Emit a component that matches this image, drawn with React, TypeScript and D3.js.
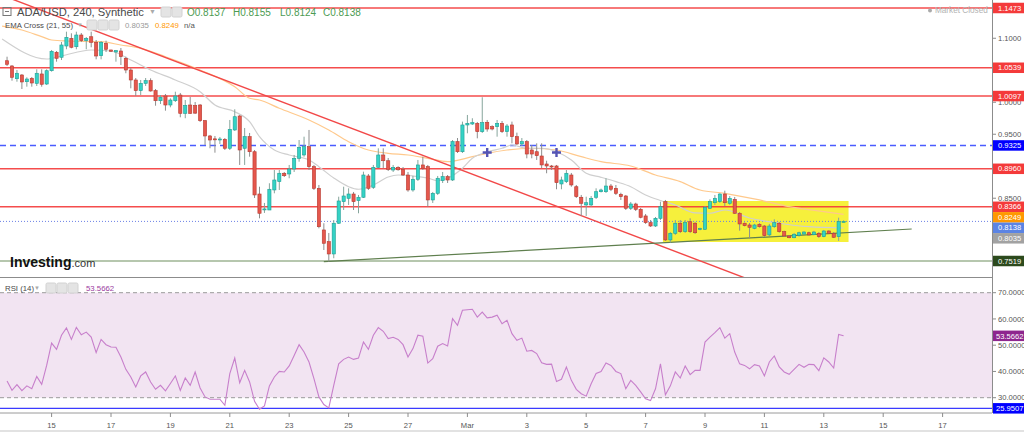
import React, { useEffect, useRef } from 'react';
import * as d3 from 'd3';

const width = 1024;
const height = 432;
const axisX = 992;
const paneBottom = 277.5;
const bottomAxisY = 413;

const upColor = '#34d2c5';
const upEdge = '#1f9f94';
const downColor = '#e5574d';
const downEdge = '#b63a30';
const levelRed = '#f43a3a';
const font = '"Liberation Sans", Arial, sans-serif';

// 4h bars, the first one opens 13 Feb 2019 12:00 UTC
const firstBar = Date.UTC(2019, 1, 13, 12);
const barMs = 4 * 3600 * 1000;

// [open, high, low, close]
const ohlc = [
  [1.0649, 1.0712, 1.0567, 1.0593], [1.0567, 1.058, 1.0337, 1.039], [1.0368, 1.0504, 1.0321, 1.0453],
  [1.0426, 1.044, 1.0207, 1.0317], [1.0321, 1.039, 1.0243, 1.0363], [1.0374, 1.0395, 1.0243, 1.0301],
  [1.0296, 1.0515, 1.0254, 1.0453], [1.0442, 1.0515, 1.0243, 1.0281], [1.0285, 1.0515, 1.027, 1.0493],
  [1.0493, 1.0817, 1.0478, 1.0796], [1.0781, 1.0801, 1.0634, 1.0687], [1.0703, 1.0942, 1.066, 1.0895],
  [1.0879, 1.1103, 1.0828, 1.1015], [1.0999, 1.1077, 1.0843, 1.0859], [1.0868, 1.1103, 1.0828, 1.1051],
  [1.1051, 1.1082, 1.0941, 1.0962], [1.0962, 1.102, 1.0828, 1.0999], [1.1024, 1.1103, 1.0859, 1.0937],
  [1.0937, 1.0973, 1.0671, 1.0723], [1.0728, 1.0957, 1.0671, 1.0937], [1.0921, 1.0962, 1.0785, 1.0828],
  [1.0817, 1.082, 1.079, 1.0796], [1.0785, 1.0817, 1.0634, 1.0806], [1.0801, 1.0848, 1.0582, 1.0712],
  [1.0687, 1.0712, 1.0453, 1.0504], [1.0504, 1.0535, 1.0218, 1.0348], [1.0348, 1.0379, 1.0098, 1.0181],
  [1.0181, 1.0348, 1.0113, 1.0296], [1.0296, 1.0379, 1.0254, 1.0337], [1.0337, 1.0374, 1.0166, 1.0176],
  [1.0181, 1.0207, 0.9946, 1.0024], [1.0024, 1.0113, 0.9973, 1.0078], [1.0098, 1.0129, 0.9868, 0.9957],
  [0.9957, 1.0062, 0.9921, 1.0035], [1.0024, 1.0165, 1.0004, 1.0098], [1.0113, 1.0145, 0.9765, 0.9827],
  [0.9827, 1.0035, 0.975, 0.995], [0.9957, 1.0082, 0.9817, 0.9827], [0.995, 1.0004, 0.9817, 0.983],
  [0.9957, 0.9973, 0.9692, 0.9712], [0.9712, 0.9723, 0.9332, 0.9473], [0.9473, 0.9489, 0.9281, 0.941],
  [0.9428, 0.9473, 0.9212, 0.9415], [0.9415, 0.9457, 0.9348, 0.9426], [0.9421, 0.9441, 0.9254, 0.9281],
  [0.9281, 0.9723, 0.9254, 0.9577], [0.9567, 0.989, 0.9551, 0.9774], [0.9785, 0.9801, 0.902, 0.9254],
  [0.9281, 0.9598, 0.902, 0.9462], [0.9462, 0.952, 0.9149, 0.9227], [0.9227, 0.9254, 0.8504, 0.8551],
  [0.8566, 0.868, 0.8186, 0.8265], [0.832, 0.8426, 0.827, 0.8333], [0.8316, 0.8734, 0.8316, 0.864],
  [0.8629, 0.8941, 0.8577, 0.8785], [0.8759, 0.8941, 0.8629, 0.889], [0.889, 0.891, 0.8832, 0.8852],
  [0.8879, 0.902, 0.8812, 0.8957], [0.8957, 0.9176, 0.891, 0.9124], [0.9124, 0.941, 0.9071, 0.9296],
  [0.9176, 0.9462, 0.9149, 0.9306], [0.9306, 0.9567, 0.8941, 0.8993], [0.8993, 0.902, 0.8629, 0.8655],
  [0.8655, 0.8707, 0.803, 0.8055], [0.8004, 0.8109, 0.7691, 0.7796], [0.7821, 0.7957, 0.7508, 0.7629],
  [0.7629, 0.816, 0.7562, 0.8109], [0.8109, 0.8524, 0.8098, 0.8457], [0.8446, 0.868, 0.8316, 0.8535],
  [0.8499, 0.8655, 0.8395, 0.8566], [0.8566, 0.8598, 0.8316, 0.8446], [0.8462, 0.8551, 0.8265, 0.8515],
  [0.8515, 0.8915, 0.8504, 0.8863], [0.8848, 0.8879, 0.8629, 0.8655], [0.8671, 0.902, 0.8645, 0.8983],
  [0.8983, 0.928, 0.8973, 0.9176], [0.9176, 0.928, 0.8968, 0.9086], [0.9086, 0.9129, 0.8926, 0.8952],
  [0.8941, 0.902, 0.891, 0.8983], [0.8983, 0.9, 0.893, 0.8945], [0.8952, 0.8988, 0.8848, 0.8863],
  [0.8863, 0.891, 0.8602, 0.8629], [0.8629, 0.8848, 0.8602, 0.8796], [0.8796, 0.9098, 0.877, 0.902],
  [0.902, 0.9149, 0.8941, 0.8968], [0.8993, 0.902, 0.8368, 0.8473], [0.8473, 0.8598, 0.8426, 0.8577],
  [0.8577, 0.8848, 0.8551, 0.8812], [0.8774, 0.891, 0.8738, 0.8837], [0.8837, 0.8863, 0.8738, 0.8785],
  [0.8785, 0.941, 0.877, 0.9384], [0.9384, 0.9441, 0.9207, 0.9227], [0.9227, 0.9697, 0.9207, 0.9645],
  [0.9645, 0.9801, 0.9515, 0.9671], [0.966, 0.975, 0.9645, 0.9681], [0.9671, 0.9692, 0.9436, 0.954],
  [0.954, 1.0078, 0.952, 0.9681], [0.9687, 0.9723, 0.954, 0.9582], [0.9618, 0.964, 0.956, 0.9582],
  [0.9618, 0.9723, 0.9462, 0.9671], [0.9671, 0.9707, 0.952, 0.954], [0.954, 0.966, 0.9462, 0.9629],
  [0.9645, 0.9697, 0.9358, 0.9462], [0.9462, 0.9525, 0.9332, 0.9348], [0.9348, 0.9441, 0.9317, 0.9384],
  [0.9384, 0.941, 0.9124, 0.9191], [0.9254, 0.9332, 0.9124, 0.9191], [0.9227, 0.9358, 0.9098, 0.9165],
  [0.916, 0.9358, 0.8968, 0.902], [0.9035, 0.9086, 0.889, 0.9004], [0.9004, 0.902, 0.8941, 0.8988],
  [0.9004, 0.902, 0.864, 0.8743], [0.8723, 0.8837, 0.864, 0.8785], [0.8759, 0.8941, 0.8738, 0.889],
  [0.8863, 0.8895, 0.868, 0.8707], [0.868, 0.8707, 0.8504, 0.8524], [0.8515, 0.8551, 0.8223, 0.8421],
  [0.8395, 0.8524, 0.8223, 0.843], [0.8395, 0.8535, 0.8368, 0.8499], [0.8515, 0.8655, 0.8488, 0.8602],
  [0.8602, 0.865, 0.859, 0.8629], [0.8602, 0.8812, 0.8582, 0.8691], [0.8691, 0.8723, 0.8612, 0.864],
  [0.8655, 0.8707, 0.8551, 0.8577], [0.8561, 0.8586, 0.8473, 0.8524], [0.8535, 0.8551, 0.8316, 0.8343],
  [0.8343, 0.8442, 0.8316, 0.841], [0.841, 0.843, 0.83, 0.8327], [0.8327, 0.8348, 0.8186, 0.8202],
  [0.8223, 0.8254, 0.8098, 0.8118], [0.8118, 0.816, 0.8051, 0.8066], [0.8066, 0.8207, 0.8051, 0.8186],
  [0.8186, 0.8446, 0.816, 0.8368], [0.8446, 0.8473, 0.7832, 0.7848], [0.7848, 0.7973, 0.7806, 0.7952],
  [0.7952, 0.816, 0.7926, 0.8109], [0.8109, 0.816, 0.7957, 0.7977], [0.7977, 0.816, 0.7957, 0.8118],
  [0.8133, 0.8186, 0.7957, 0.7977], [0.8109, 0.8129, 0.7941, 0.7961], [0.8015, 0.804, 0.8, 0.8025],
  [0.8015, 0.8379, 0.8004, 0.8359], [0.8343, 0.8483, 0.8332, 0.8446], [0.843, 0.8551, 0.8395, 0.8499],
  [0.8446, 0.8577, 0.8426, 0.8566], [0.8566, 0.8618, 0.8379, 0.843], [0.8421, 0.8535, 0.8395, 0.8499],
  [0.8483, 0.852, 0.8254, 0.8265], [0.8265, 0.8285, 0.7993, 0.8098], [0.8109, 0.812, 0.806, 0.8071],
  [0.8082, 0.8113, 0.7874, 0.8046], [0.803, 0.81, 0.8015, 0.8082], [0.8093, 0.811, 0.804, 0.8055],
  [0.8066, 0.8082, 0.7895, 0.7915], [0.7926, 0.8098, 0.791, 0.8066], [0.8055, 0.8171, 0.8035, 0.8118],
  [0.8109, 0.8129, 0.7961, 0.7977], [0.7977, 0.7993, 0.7895, 0.791], [0.791, 0.7926, 0.7874, 0.7883],
  [0.7883, 0.7957, 0.7874, 0.7937], [0.7921, 0.7977, 0.7899, 0.7961], [0.794, 0.7985, 0.7926, 0.7972],
  [0.7961, 0.7977, 0.7915, 0.7926], [0.793, 0.799, 0.792, 0.7972], [0.7952, 0.7972, 0.788, 0.7899],
  [0.7899, 0.8004, 0.789, 0.7988], [0.7988, 0.7998, 0.794, 0.7952], [0.7952, 0.7972, 0.788, 0.789],
  [0.7899, 0.8196, 0.7832, 0.8137], [0.8137, 0.8155, 0.8124, 0.8138],
];

// RSI(14), one value per bar
const rsi = [
  36.4, 32.8, 35.0, 32.7, 34.5, 33.4, 38.1, 35.1, 42.3, 50.8,
  48.4, 53.8, 56.6, 52.2, 56.8, 54.0, 55.0, 53.1, 47.2, 52.2,
  50.2, 49.3, 49.2, 45.5, 40.8, 37.9, 34.1, 38.3, 39.8, 36.0,
  33.2, 34.7, 32.6, 35.4, 38.3, 32.8, 37.5, 34.7, 39.8, 33.7,
  30.3, 29.4, 29.4, 29.4, 27.1, 39.2, 45.1, 35.7, 40.4, 36.0,
  28.6, 25.6, 26.9, 34.5, 37.9, 40.0, 39.8, 42.1, 46.1, 50.2,
  47.4, 43.6, 37.3, 30.3, 27.4, 26.1, 34.7, 42.9, 44.6, 45.5,
  44.6, 45.1, 51.2, 48.4, 53.8, 56.7, 55.3, 52.5, 53.0, 52.2,
  50.2, 45.5, 48.7, 53.8, 53.4, 43.2, 44.9, 49.6, 50.6, 49.7,
  60.1, 57.6, 63.3, 63.5, 63.7, 60.7, 62.6, 60.4, 60.7, 61.4,
  58.2, 59.5, 54.4, 51.9, 52.7, 47.7, 48.0, 46.8, 43.3, 42.7,
  42.8, 36.2, 37.0, 41.7, 36.6, 33.2, 31.5, 30.6, 35.3, 39.2,
  40.0, 43.2, 42.3, 40.0, 39.2, 33.4, 36.6, 34.7, 32.2, 29.6,
  28.9, 33.4, 42.9, 31.1, 34.5, 39.8, 37.5, 42.1, 38.8, 40.4,
  40.4, 51.2, 53.1, 54.8, 56.7, 52.7, 54.4, 47.4, 42.9, 42.3,
  41.0, 42.6, 42.1, 38.3, 43.6, 45.9, 41.7, 39.8, 38.9, 40.8,
  42.7, 41.6, 42.7, 42.6, 40.3, 45.2, 43.6, 41.3, 54.1, 53.5662,
];

// EMA readings: [bar index, price]
const emaFast = [
  [-1, 1.099], [8, 1.0676], [11, 1.0723], [17, 1.0817], [21, 1.0801], [25, 1.066], [29, 1.0504],
  [34, 1.0348], [39, 1.0165], [42, 0.9957], [46, 0.9853], [49, 0.9696], [51, 0.9462], [54, 0.9254],
  [57, 0.9176], [61, 0.9098], [63, 0.8993], [66, 0.8816], [69, 0.868], [71, 0.864], [74, 0.8707],
  [77, 0.8832], [79, 0.8863], [82, 0.8848], [85, 0.8816], [87, 0.8774], [89, 0.8812], [92, 0.8968],
  [94, 0.9124], [97, 0.9223], [100, 0.9281], [102, 0.9332], [105, 0.9281], [108, 0.9281],
  [111, 0.9227], [114, 0.9098], [117, 0.889], [120, 0.8827], [123, 0.8759], [126, 0.868],
  [129, 0.8551], [132, 0.8465], [135, 0.8395], [139, 0.827], [142, 0.8265], [145, 0.8316],
  [150, 0.8191], [156, 0.8109], [162, 0.8055], [169, 0.8035],
];
const emaSlow = [
  [-1, 1.119], [3, 1.1129], [7, 1.1025], [9, 1.0973], [12, 1.0957], [19, 1.0946], [23, 1.0895],
  [27, 1.0843], [32, 1.0712], [39, 1.0504], [46, 1.0243], [49, 1.0062], [51, 1.0035], [55, 0.9906],
  [61, 0.9723], [65, 0.9567], [69, 0.9384], [73, 0.9254], [77, 0.9202], [81, 0.9176], [85, 0.9124],
  [89, 0.9071], [94, 0.9149], [97, 0.9202], [101, 0.9254], [106, 0.9281], [111, 0.9254],
  [116, 0.9149], [120, 0.9071], [126, 0.9004], [131, 0.8863], [136, 0.8759], [140, 0.8629],
  [145, 0.8577], [152, 0.8473], [158, 0.8368], [165, 0.829], [169, 0.8249],
];
const crossBars = [97, 111];
const crossPrice = 0.9215;

const resistanceLevels = [1.1473, 1.0539, 1.0097, 0.896, 0.8366];
const pivotLevel = 0.9325;
const supportLevel = 0.7519;
const lastPrice = 0.8138;

const fallingTrend = [[Date.UTC(2019, 1, 13, 12), 1.1642], [Date.UTC(2019, 2, 10, 12), 0.7227]];
const risingTrend = [[Date.UTC(2019, 1, 24, 4), 0.7508], [Date.UTC(2019, 2, 15, 23), 0.8019]];
const boxTimes = [Date.UTC(2019, 2, 7, 14), Date.UTC(2019, 2, 13, 20)];
const boxPrices = [0.8457, 0.7816];

const priceTicks = [1.15, 1.1, 1.05, 1.0, 0.95, 0.9, 0.85, 0.8, 0.75];
const priceBadges = [1.1473, 1.0539, 1.0097, 0.9325, 0.896, 0.8366, 0.8249, 0.8138, 0.8035, 0.7519];
const priceBadgeColors = [levelRed, levelRed, levelRed, '#0000ff', levelRed, levelRed, '#ff9800', '#5b84e4', '#a2a2a2', '#2c4a1d'];

const rsiTicks = [70, 60, 50, 40, 30];
const rsiBand = [30, 70];
const rsiLow = 25.9507;
const rsiLast = 53.5662;

const dayTicks = [
  Date.UTC(2019, 1, 15), Date.UTC(2019, 1, 17), Date.UTC(2019, 1, 19), Date.UTC(2019, 1, 21),
  Date.UTC(2019, 1, 23), Date.UTC(2019, 1, 25), Date.UTC(2019, 1, 27), Date.UTC(2019, 2, 1),
  Date.UTC(2019, 2, 3), Date.UTC(2019, 2, 5), Date.UTC(2019, 2, 7), Date.UTC(2019, 2, 9),
  Date.UTC(2019, 2, 11), Date.UTC(2019, 2, 13), Date.UTC(2019, 2, 15), Date.UTC(2019, 2, 17),
];
const dayLabels = ['15', '17', '19', '21', '23', '25', '27', 'Mar', '3', '5', '7', '9', '11', '13', '15', '17'];

const barTime = (i: number) => new Date(firstBar + i * barMs);

const App = () => {
  const ref = useRef<SVGSVGElement>(null);

  useEffect(() => {
    document.body.style.margin = '0';
    const svg = d3.select(ref.current);
    svg.selectAll('*').remove();

    const x = d3
      .scaleUtc()
      .domain([new Date(Date.UTC(2019, 1, 15)), new Date(Date.UTC(2019, 2, 17))])
      .range([51.6, 942.6]);
    const y = d3.scaleLinear().domain([0.7519, 1.1473]).range([261, 8]);
    const yr = d3.scaleLinear().domain([30, 70]).range([397.7, 292.7]);

    svg.append('rect').attr('width', width).attr('height', height).attr('fill', '#fff');

    const defs = svg.append('defs');
    defs.append('clipPath').attr('id', 'pricePane')
      .append('rect').attr('width', axisX).attr('height', paneBottom);

    // ---- RSI pane ----
    const rp = svg.append('g');
    rp.append('rect')
      .attr('x', 0).attr('width', axisX)
      .attr('y', yr(rsiBand[1])).attr('height', yr(rsiBand[0]) - yr(rsiBand[1]))
      .attr('fill', '#f2e4f2');
    rp.selectAll('line.band').data(rsiBand).join('line')
      .attr('x1', 0).attr('x2', axisX)
      .attr('y1', d => yr(d)).attr('y2', d => yr(d))
      .attr('stroke', '#9a9a9a').attr('stroke-dasharray', '4 3');
    rp.append('line')
      .attr('x1', 0).attr('x2', axisX)
      .attr('y1', yr(rsiLow)).attr('y2', yr(rsiLow))
      .attr('stroke', '#3b3bff').attr('stroke-width', 1.4);
    rp.append('path')
      .datum(rsi)
      .attr('d', d3.line<number>().x((d, i) => x(barTime(i))).y(d => yr(d)))
      .attr('fill', 'none').attr('stroke', '#c77fcb').attr('stroke-width', 1.1);

    // ---- price pane ----
    const pp = svg.append('g').attr('clip-path', 'url(#pricePane)');

    pp.append('rect')
      .attr('x', x(new Date(boxTimes[0]))).attr('width', x(new Date(boxTimes[1])) - x(new Date(boxTimes[0])))
      .attr('y', y(boxPrices[0])).attr('height', y(boxPrices[1]) - y(boxPrices[0]))
      .attr('fill', '#f6f03c');

    pp.selectAll('line.res').data(resistanceLevels).join('line')
      .attr('x1', 0).attr('x2', axisX)
      .attr('y1', d => y(d)).attr('y2', d => y(d))
      .attr('stroke', levelRed).attr('stroke-width', 1.4).attr('opacity', 0.9);
    pp.append('line')
      .attr('x1', 0).attr('x2', axisX).attr('y1', y(pivotLevel)).attr('y2', y(pivotLevel))
      .attr('stroke', '#4a5cff').attr('stroke-width', 1.4).attr('stroke-dasharray', '6 4');
    pp.append('line')
      .attr('x1', 0).attr('x2', axisX).attr('y1', y(supportLevel)).attr('y2', y(supportLevel))
      .attr('stroke', '#6f8f5e').attr('stroke-width', 1.2);
    pp.append('line')
      .attr('x1', 0).attr('x2', axisX).attr('y1', y(lastPrice)).attr('y2', y(lastPrice))
      .attr('stroke', '#6b80e6').attr('stroke-dasharray', '1 2');

    const emaLine = d3.line<number[]>()
      .x(d => x(barTime(d[0])))
      .y(d => y(d[1]))
      .curve(d3.curveMonotoneX);
    pp.append('path').datum(emaSlow).attr('d', emaLine)
      .attr('fill', 'none').attr('stroke', '#ffc98c').attr('stroke-width', 1.2);
    pp.append('path').datum(emaFast).attr('d', emaLine)
      .attr('fill', 'none').attr('stroke', '#cfcfcf').attr('stroke-width', 1.2);

    const trendLine = d3.line<number[]>().x(d => x(new Date(d[0]))).y(d => y(d[1]));
    pp.append('path').datum(fallingTrend).attr('d', trendLine)
      .attr('stroke', '#f24848').attr('stroke-width', 1.4).attr('fill', 'none');
    pp.append('path').datum(risingTrend).attr('d', trendLine)
      .attr('stroke', '#5f7f4e').attr('stroke-width', 1.2).attr('fill', 'none');

    const bars = ohlc.map((d, i) => ({ t: barTime(i), o: d[0], h: d[1], l: d[2], c: d[3] }));
    pp.selectAll('line.wick').data(bars).join('line')
      .attr('x1', d => x(d.t)).attr('x2', d => x(d.t))
      .attr('y1', d => y(d.h)).attr('y2', d => y(d.l))
      .attr('stroke', d => (d.c >= d.o ? '#86a59c' : '#8d8d8d')).attr('stroke-width', 1);
    pp.selectAll('rect.body').data(bars).join('rect')
      .attr('x', d => x(d.t) - 1.6).attr('width', 3.2)
      .attr('y', d => y(Math.max(d.o, d.c)))
      .attr('height', d => Math.max(1, Math.abs(y(d.o) - y(d.c))))
      .attr('fill', d => (d.c >= d.o ? upColor : downColor))
      .attr('stroke', d => (d.c >= d.o ? upEdge : downEdge)).attr('stroke-width', 0.6);

    pp.selectAll('path.cross').data(crossBars).join('path')
      .attr('transform', d => `translate(${x(barTime(d))},${y(crossPrice)})`)
      .attr('d', 'M-4.5,0H4.5M0,-4.5V4.5')
      .attr('stroke', '#5454b4').attr('stroke-width', 2.4);

    // Investing.com mark
    const logo = svg.append('text').attr('x', 10).attr('y', 267).attr('font-family', font);
    logo.append('tspan').text('Investing').attr('font-size', 14).attr('font-weight', 'bold').attr('fill', '#111');
    logo.append('tspan').text('.com').attr('font-size', 11).attr('fill', '#333');

    // pane separators
    svg.append('line').attr('x1', 0).attr('x2', axisX).attr('y1', paneBottom).attr('y2', paneBottom)
      .attr('stroke', '#8c8c8c');
    svg.append('line').attr('x1', 0).attr('x2', axisX).attr('y1', bottomAxisY).attr('y2', bottomAxisY)
      .attr('stroke', '#9a9a9a');
    svg.append('line').attr('x1', axisX + 0.5).attr('x2', axisX + 0.5).attr('y1', 0).attr('y2', bottomAxisY)
      .attr('stroke', '#8c8c8c');
    svg.append('line').attr('x1', 0).attr('x2', width).attr('y1', 431).attr('y2', 431)
      .attr('stroke', '#e2e2e2').attr('stroke-width', 2);

    // right price axis
    const ax = svg.append('g').attr('font-family', font).attr('font-size', 7.6);
    const badgeH = 10.5;
    const badges = priceBadges
      .map((v, i) => ({ v, color: priceBadgeColors[i], cy: y(v) }))
      .sort((a, b) => a.cy - b.cy);
    let prevBottom = -Infinity;
    badges.forEach(b => {
      b.cy = Math.max(b.cy, prevBottom + badgeH / 2);
      prevBottom = b.cy + badgeH / 2;
    });
    // tick labels fully hidden behind a badge are left out, as in the source
    const visibleTicks = priceTicks.filter(t => badges.every(b => Math.abs(y(t) - b.cy) > 5));

    ax.selectAll('line.pt').data(priceTicks).join('line')
      .attr('x1', axisX).attr('x2', axisX + 4).attr('y1', d => y(d)).attr('y2', d => y(d))
      .attr('stroke', '#8c8c8c');
    ax.selectAll('text.pt').data(visibleTicks).join('text')
      .attr('x', axisX + 6).attr('y', d => y(d)).attr('dy', '0.35em')
      .attr('fill', '#555').text(d => d.toFixed(4));

    const bg = ax.selectAll('g.badge').data(badges).join('g')
      .attr('transform', d => `translate(${axisX + 1},${d.cy})`);
    bg.append('rect').attr('x', 0).attr('y', -badgeH / 2).attr('width', width - axisX - 1).attr('height', badgeH)
      .attr('fill', d => d.color);
    bg.append('text').attr('x', 5).attr('dy', '0.35em').attr('fill', '#fff').text(d => d.v.toFixed(4));

    // right RSI axis
    ax.selectAll('line.rt').data(rsiTicks).join('line')
      .attr('x1', axisX).attr('x2', axisX + 4).attr('y1', d => yr(d)).attr('y2', d => yr(d))
      .attr('stroke', '#8c8c8c');
    ax.selectAll('text.rt').data(rsiTicks).join('text')
      .attr('x', axisX + 6).attr('y', d => yr(d)).attr('dy', '0.35em')
      .attr('fill', '#555').text(d => d.toFixed(4));
    const rb = ax.selectAll('g.rbadge')
      .data([{ v: rsiLast, color: '#8e268e' }, { v: rsiLow, color: '#0000ff' }])
      .join('g')
      .attr('transform', d => `translate(${axisX + 1},${yr(d.v)})`);
    rb.append('rect').attr('y', -badgeH / 2).attr('width', width - axisX - 1).attr('height', badgeH)
      .attr('fill', d => d.color);
    rb.append('text').attr('x', 3).attr('dy', '0.35em').attr('fill', '#fff').text(d => d.v.toFixed(4));

    // bottom time axis
    const tx = svg.append('g').attr('font-family', font).attr('font-size', 7.6).attr('fill', '#555');
    tx.selectAll('line').data(dayTicks).join('line')
      .attr('x1', d => x(new Date(d))).attr('x2', d => x(new Date(d)))
      .attr('y1', bottomAxisY).attr('y2', bottomAxisY + 4).attr('stroke', '#8c8c8c');
    tx.selectAll('text').data(dayTicks).join('text')
      .attr('x', d => x(new Date(d))).attr('y', 425).attr('dy', '0.35em')
      .attr('text-anchor', 'middle').text((d, i) => dayLabels[i]);

    // headers
    const icon = (g: any, cx: number, cy: number) =>
      g.append('rect').attr('x', cx).attr('y', cy - 5).attr('width', 10).attr('height', 10).attr('rx', 1.5)
        .attr('fill', '#e4e4e4').attr('stroke', '#d2d2d2');
    const hd = svg.append('g').attr('font-family', font);
    hd.append('rect').attr('x', 3).attr('y', 7.5).attr('width', 8).attr('height', 8)
      .attr('fill', 'none').attr('stroke', '#777');
    hd.append('line').attr('x1', 5).attr('x2', 9).attr('y1', 11.5).attr('y2', 11.5).attr('stroke', '#777');
    hd.append('text').attr('x', 17).attr('y', 12).attr('dy', '0.35em').attr('font-size', 11.2)
      .attr('fill', '#4a4a4a').text('ADA/USD, 240, Synthetic');
    hd.append('text').attr('x', 149).attr('y', 12).attr('dy', '0.35em').attr('font-size', 7)
      .attr('fill', '#aaa').text('▼');
    icon(hd, 161, 12);
    icon(hd, 172, 12);
    const ohlcText = hd.append('text').attr('y', 12).attr('dy', '0.35em').attr('font-size', 10).attr('fill', '#4c9b52');
    [['O', 0.8137, 187], ['H', 0.8155, 233], ['L', 0.8124, 280], ['C', 0.8138, 323]].forEach(([k, v, px]) => {
      ohlcText.append('tspan').attr('x', px as number).text(`${k}${(v as number).toFixed(4)}`);
    });

    hd.append('text').attr('x', 5).attr('y', 25).attr('dy', '0.35em').attr('font-size', 7.8)
      .attr('fill', '#4a4a4a').text('EMA Cross (21, 55)');
    hd.append('text').attr('x', 77).attr('y', 25).attr('dy', '0.35em').attr('font-size', 6)
      .attr('fill', '#aaa').text('▼');
    icon(hd, 87, 25);
    icon(hd, 98, 25);
    icon(hd, 109, 25);
    hd.append('text').attr('x', 125).attr('y', 25).attr('dy', '0.35em').attr('font-size', 7.8)
      .attr('fill', '#999').text(emaFast[emaFast.length - 1][1].toFixed(4));
    hd.append('text').attr('x', 155).attr('y', 25).attr('dy', '0.35em').attr('font-size', 7.8)
      .attr('fill', '#ff9800').text(emaSlow[emaSlow.length - 1][1].toFixed(4));
    hd.append('text').attr('x', 184).attr('y', 25).attr('dy', '0.35em').attr('font-size', 7.8)
      .attr('fill', '#555').text('n/a');

    hd.append('text').attr('x', 5).attr('y', 288).attr('dy', '0.35em').attr('font-size', 7.8)
      .attr('fill', '#4a4a4a').text('RSI (14)');
    hd.append('text').attr('x', 34).attr('y', 288).attr('dy', '0.35em').attr('font-size', 6)
      .attr('fill', '#aaa').text('▼');
    icon(hd, 46, 288);
    icon(hd, 57, 288);
    icon(hd, 68, 288);
    hd.append('text').attr('x', 86).attr('y', 288).attr('dy', '0.35em').attr('font-size', 7.8)
      .attr('fill', '#9b3aa0').text(rsiLast.toFixed(4));

    hd.append('circle').attr('cx', 930).attr('cy', 10.5).attr('r', 2).attr('fill', '#aaa');
    hd.append('text').attr('x', 935).attr('y', 10.5).attr('dy', '0.35em').attr('font-size', 8.2)
      .attr('fill', '#b3b3b3').text('Market Closed');
  }, []);

  return <svg ref={ref} width={width} height={height} style={{ display: 'block' }} />;
};

export default App;
